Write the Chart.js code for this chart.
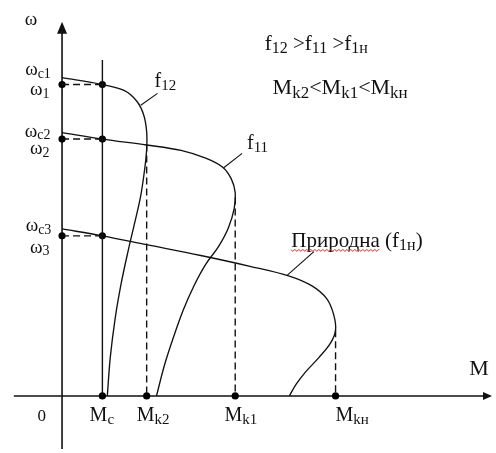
<!DOCTYPE html>
<html>
<head>
<meta charset="utf-8">
<title>Механічні характеристики</title>
<script src="https://cdn.jsdelivr.net/npm/chart.js@4.4.0/dist/chart.umd.min.js"></script>
<style>
  html, body { margin: 0; padding: 0; background: #fff; }
  #chart { display: block; }
</style>
</head>
<body>
<canvas id="chart" width="496" height="453"></canvas>
<script>
// torque marks on the M axis
const torqueNames = [['M', '_c'], ['M', '_k2'], ['M', '_k1'], ['M', '_kн']];
const torqueValues = [4.1, 8.6, 17.6, 27.8];

// speeds at load torque Mc, and idle speeds on the ω axis
const speedValues = [31.7, 26.15, 16.3];
const idleSpeedValues = [32.4, 26.8, 17.0];

// ω at the breakdown torque of each characteristic
const breakdownSpeeds = [25.6, 20.2, 6.7];

// mechanical characteristics, [M, ω]
const curveF12 = [
    [0, 32.4], [4.1, 31.7], [6.3, 31.1], [7.6, 30.0], [8.3, 28.6], [8.6, 26.9],
    [8.6, 25.1], [8.4, 23.1], [8.0, 20.4], [7.4, 17.7], [6.7, 14.7], [6.0, 11.4],
    [5.4, 7.9], [4.9, 3.9], [4.6, 0]
];
const curveF11 = [
    [0, 26.8], [4.1, 26.15], [8.6, 25.55], [12.1, 25.0], [14.6, 24.2], [16.3, 23.3],
    [17.2, 22.1], [17.6, 20.7], [17.5, 19.1], [16.9, 17.1], [15.9, 15.2], [14.6, 13.4],
    [13.4, 11.2], [12.3, 8.7], [11.3, 5.9], [10.4, 3.1], [9.6, 0]
];
const curveNatural = [
    [0, 17.0], [4.1, 16.3], [8.6, 15.4], [14.1, 14.3], [19.1, 13.2], [23.1, 12.2],
    [25.4, 11.2], [26.9, 9.9], [27.6, 8.3], [27.8, 6.7], [27.3, 5.4], [26.1, 3.9],
    [24.8, 2.5], [23.8, 1.2], [23.1, 0]
];

// leader lines from the curve names
const leaderF12 = [[8.0, 29.6], [9.7, 30.8]];
const leaderF11 = [[16.4, 23.2], [18.3, 24.7]];
const leaderNatural = [[22.9, 12.3], [25.6, 14.7]];

const toXY = (pts) => pts.map(([m, w]) => ({ x: m, y: w }));
const mc = torqueValues[0];

function lineSet(points, extra) {
    return Object.assign({
        data: toXY(points),
        showLine: true,
        borderColor: '#111',
        borderWidth: 1.35,
        pointRadius: 0,
        tension: 0.35,
        fill: false,
    }, extra || {});
}

const straight = { tension: 0, borderWidth: 1.1 };
const dashed = { borderDash: [7, 4], tension: 0, borderWidth: 1.4 };

const datasets = [
    lineSet(curveF12),
    lineSet(curveF11),
    lineSet(curveNatural),
    lineSet(leaderF12, straight),
    lineSet(leaderF11, straight),
    lineSet(leaderNatural, straight),
    // load torque line
    lineSet([[mc, 0], [mc, 34.2]], { tension: 0, borderWidth: 1.4 }),
];

// dashed projections onto the axes
speedValues.forEach((w) => datasets.push(lineSet([[0, w], [mc, w]], dashed)));
torqueValues.slice(1).forEach((m, i) => {
    datasets.push(lineSet([[m, breakdownSpeeds[i]], [m, 0]], dashed));
});

// dots
const dots = [];
speedValues.forEach((w) => { dots.push({ x: 0, y: w }, { x: mc, y: w }); });
torqueValues.forEach((m) => dots.push({ x: m, y: 0 }));
datasets.push({
    data: dots,
    showLine: false,
    pointRadius: 3.6,
    pointBackgroundColor: '#000',
    pointBorderColor: '#000',
    pointBorderWidth: 0,
});

const FONT = '"Liberation Serif", "Times New Roman", serif';

// text labels: anchor [M, ω], font size, parts ('_' marks a subscript)
const texts = [
    { at: [-3.8, 37.8], size: 19, parts: ['ω'] },
    { at: [-3.75, 32.7], size: 19, parts: ['ω', '_c1'] },
    { at: [-3.25, 30.6], size: 19, parts: ['ω', '_1'] },
    { at: [-3.8, 26.4], size: 19, parts: ['ω', '_c2'] },
    { at: [-3.25, 24.6], size: 19, parts: ['ω', '_2'] },
    { at: [-3.7, 16.8], size: 19, parts: ['ω', '_c3'] },
    { at: [-3.25, 14.6], size: 19, parts: ['ω', '_3'] },
    { at: [9.4, 31.5], size: 20, parts: ['f', '_12'] },
    { at: [18.8, 25.1], size: 20, parts: ['f', '_11'] },
    { at: [23.3, 15.2], size: 21, parts: ['Природна (f', '_1н', ')'], wavy: 'Природна' },
    { at: [20.6, 35.2], size: 21, parts: ['f', '_12', ' >', 'f', '_11', ' >', 'f', '_1н'] },
    { at: [21.4, 30.7], size: 22, parts: ['M', '_k2', '<', 'M', '_k1', '<', 'M', '_kн'] },
    { at: [-2.5, -2.5], size: 17, parts: ['0'] },
    { at: [2.8, -2.5], size: 20, parts: torqueNames[0] },
    { at: [7.6, -2.5], size: 20, parts: torqueNames[1] },
    { at: [16.5, -2.5], size: 20, parts: torqueNames[2] },
    { at: [27.8, -2.5], size: 20, parts: torqueNames[3] },
    { at: [41.4, 2.1], size: 22, parts: ['M'] },
];

function drawRich(ctx, x, y, parts, size) {
    let cx = x;
    parts.forEach((p) => {
        const sub = p.startsWith('_');
        const txt = sub ? p.slice(1) : p;
        ctx.font = `${sub ? Math.round(size * 0.75) : size}px ${FONT}`;
        ctx.fillText(txt, cx, sub ? y + size * 0.15 : y);
        cx += ctx.measureText(txt).width;
    });
}

function drawWavy(ctx, x, y, width) {
    ctx.save();
    ctx.strokeStyle = '#d03030';
    ctx.lineWidth = 0.9;
    ctx.beginPath();
    for (let i = 0; i <= width; i += 1) {
        const yy = y + ((i % 4) < 2 ? (i % 2) : 1 - (i % 2)) * 1.5;
        if (i === 0) ctx.moveTo(x + i, yy); else ctx.lineTo(x + i, yy);
    }
    ctx.stroke();
    ctx.restore();
}

const diagramPlugin = {
    id: 'diagram',
    beforeDatasetsDraw(chart) {
        const { ctx, scales: { x, y } } = chart;
        const x0 = x.getPixelForValue(0);
        const y0 = y.getPixelForValue(0);
        const xEnd = x.getPixelForValue(43.7);
        const yTop = y.getPixelForValue(38.1);
        ctx.save();
        ctx.strokeStyle = '#111';
        ctx.fillStyle = '#111';
        ctx.lineWidth = 1.6;
        ctx.beginPath();
        ctx.moveTo(x.getPixelForValue(-4.9), y0);
        ctx.lineTo(xEnd - 4, y0);
        ctx.moveTo(x0, y.getPixelForValue(-5.4));
        ctx.lineTo(x0, yTop + 8);
        ctx.stroke();
        // arrowheads
        ctx.beginPath();
        ctx.moveTo(x0, yTop);
        ctx.lineTo(x0 - 5, yTop + 12);
        ctx.lineTo(x0 + 5, yTop + 12);
        ctx.closePath();
        ctx.fill();
        ctx.beginPath();
        ctx.moveTo(xEnd, y0);
        ctx.lineTo(xEnd - 9, y0 - 4);
        ctx.lineTo(xEnd - 9, y0 + 4);
        ctx.closePath();
        ctx.fill();
        ctx.restore();
    },
    afterDatasetsDraw(chart) {
        const { ctx, scales: { x, y } } = chart;
        ctx.save();
        ctx.fillStyle = '#111';
        ctx.textBaseline = 'alphabetic';
        ctx.textAlign = 'left';
        texts.forEach((t) => {
            const px = x.getPixelForValue(t.at[0]);
            const py = y.getPixelForValue(t.at[1]);
            drawRich(ctx, px, py, t.parts, t.size);
            if (t.wavy) {
                ctx.font = `${t.size}px ${FONT}`;
                drawWavy(ctx, px, py + 3, ctx.measureText(t.wavy).width);
            }
        });
        ctx.restore();
    },
};

new Chart(document.getElementById('chart'), {
    type: 'scatter',
    data: { datasets },
    options: {
        responsive: false,
        animation: false,
        devicePixelRatio: 1,
        layout: { padding: 0 },
        plugins: { legend: { display: false }, tooltip: { enabled: false } },
        scales: {
            x: { type: 'linear', min: -5.9, max: 43.7, display: false },
            y: { type: 'linear', min: -5.4, max: 39.9, display: false },
        },
    },
    plugins: [diagramPlugin],
});
</script>
</body>
</html>
